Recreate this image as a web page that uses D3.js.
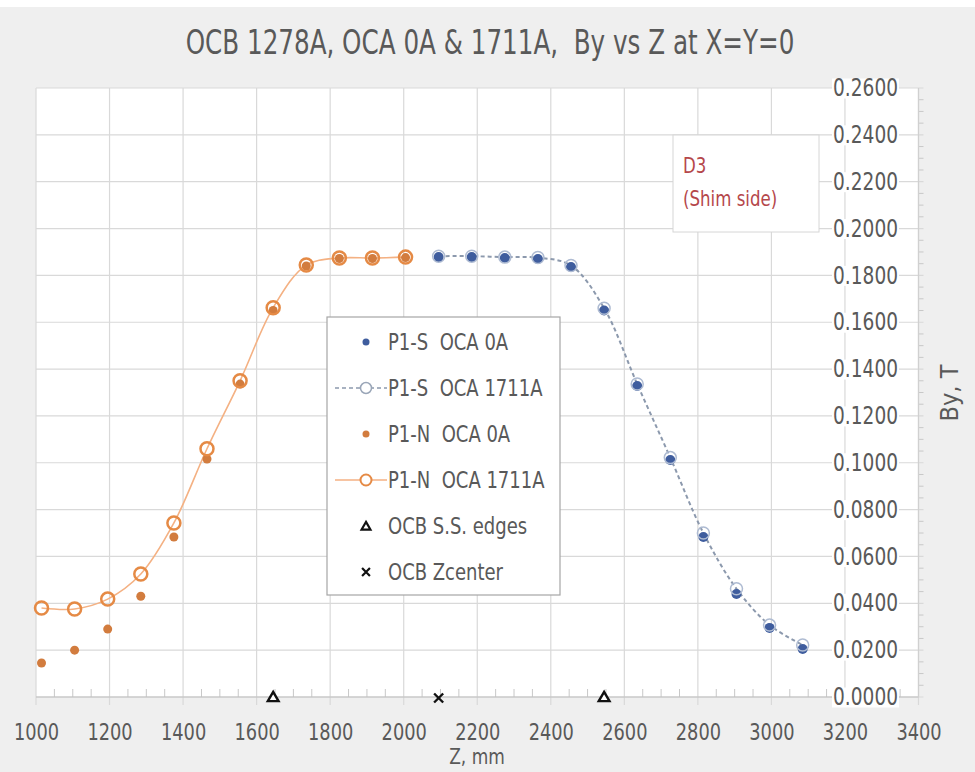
<!DOCTYPE html>
<html>
<head>
<meta charset="utf-8">
<script src="https://cdn.jsdelivr.net/npm/d3@7"></script>
<style>
  body { margin: 0; background: #efefef; }
  svg { display: block; }
</style>
</head>
<body>
<svg id="canvas" width="975" height="772"></svg>
<script>
// P1-N side (orange), Z in mm, By in T
const zNorth = [1015, 1105, 1195, 1285, 1375, 1465, 1555, 1645, 1735, 1825, 1915, 2005];
const north0A = [0.0145, 0.0200, 0.0290, 0.0430, 0.0683, 0.1016, 0.1336, 0.1650, 0.1840, 0.1872, 0.1872, 0.1876];
const north1711A = [0.0380, 0.0376, 0.0418, 0.0525, 0.0743, 0.1060, 0.1350, 0.1662, 0.1844, 0.1874, 0.1874, 0.1878];

// P1-S side (blue)
const zSouth = [2095, 2185, 2275, 2365, 2455, 2545, 2635, 2725, 2815, 2905, 2995, 3085];
const south0A = [0.1878, 0.1878, 0.1874, 0.1870, 0.1836, 0.1650, 0.1328, 0.1012, 0.0683, 0.0440, 0.0295, 0.0205];
const south1711A = [0.1882, 0.1882, 0.1878, 0.1876, 0.1842, 0.1660, 0.1336, 0.1022, 0.0700, 0.0462, 0.0307, 0.0222];

// OCB markers on the axis
const ssEdges = [1645, 2545];
const zCenter = [2095];

const xTicks = [1000, 1200, 1400, 1600, 1800, 2000, 2200, 2400, 2600, 2800, 3000, 3200, 3400];
const yTicks = [0, 0.02, 0.04, 0.06, 0.08, 0.10, 0.12, 0.14, 0.16, 0.18, 0.20, 0.22, 0.24, 0.26];

const legendLabels = ["P1-S  OCA 0A", "P1-S  OCA 1711A", "P1-N  OCA 0A", "P1-N  OCA 1711A", "OCB S.S. edges", "OCB Zcenter"];

const FONT = '"Liberation Sans Narrow", "DejaVu Sans Condensed", "DejaVu Sans", sans-serif';
const TEXT = "#595959";
const GRID = "#d9d9d9";

const svg = d3.select("#canvas").style("font-family", FONT);

const x = d3.scaleLinear().domain([1000, 3400]).range([36, 918.5]);
const y = d3.scaleLinear().domain([0, 0.26]).range([697, 88]);

// squeezed text helper: condensed look like the Calibri of the original
const label = (parent, px, py, str, size, k, anchor) =>
  parent.append("text")
    .attr("transform", `translate(${px}, ${py}) scale(${k}, 1)`)
    .attr("text-anchor", anchor || "start")
    .style("white-space", "pre")
    .style("font-size", size + "px")
    .attr("fill", TEXT)
    .text(str);

// backgrounds
svg.append("rect").attr("width", 975).attr("height", 772).attr("fill", "#efefef");
svg.append("rect").attr("width", 975).attr("height", 7).attr("fill", "#ffffff");
svg.append("rect")
  .attr("x", x(1000)).attr("y", y(0.26))
  .attr("width", x(3400) - x(1000)).attr("height", y(0) - y(0.26))
  .attr("fill", "#ffffff");

// gridlines
svg.append("g").selectAll("line").data(xTicks).enter().append("line")
  .attr("x1", (d) => x(d)).attr("x2", (d) => x(d))
  .attr("y1", y(0.26)).attr("y2", y(0) + 8)
  .attr("stroke", GRID).attr("stroke-width", 1.2);

svg.append("g").selectAll("line").data(yTicks).enter().append("line")
  .attr("x1", x(1000)).attr("x2", x(3400) + 5)
  .attr("y1", (d) => y(d)).attr("y2", (d) => y(d))
  .attr("stroke", GRID).attr("stroke-width", 1.2);

// minor ticks
const xMinor = d3.range(1000, 3401, 50).filter((d) => d % 200 !== 0);
svg.append("g").selectAll("line").data(xMinor).enter().append("line")
  .attr("x1", (d) => x(d)).attr("x2", (d) => x(d))
  .attr("y1", y(0) - 8).attr("y2", y(0))
  .attr("stroke", "#c8c8c8");

const yMinor = d3.range(0, 261, 5).map((d) => d / 1000).filter((d) => Math.round(d * 1000) % 20 !== 0);
svg.append("g").selectAll("line").data(yMinor).enter().append("line")
  .attr("x1", x(3400)).attr("x2", x(3400) + 5)
  .attr("y1", (d) => y(d)).attr("y2", (d) => y(d))
  .attr("stroke", "#c8c8c8");

// axis lines
svg.append("line")
  .attr("x1", x(1000)).attr("x2", x(3400)).attr("y1", y(0)).attr("y2", y(0))
  .attr("stroke", "#bfbfbf").attr("stroke-width", 1.2);
svg.append("line")
  .attr("x1", x(3400)).attr("x2", x(3400)).attr("y1", y(0.26)).attr("y2", y(0))
  .attr("stroke", "#d0d0d0").attr("stroke-width", 1.2);

// x tick labels
const xAxis = svg.append("g")
  .attr("transform", `translate(0, ${y(0)})`)
  .call(d3.axisBottom(x).tickValues(xTicks).tickSize(0).tickPadding(0).tickFormat(d3.format("d")));
xAxis.select(".domain").remove();
xAxis.selectAll("text")
  .attr("y", 43).attr("dy", 0)
  .attr("transform", "scale(0.86, 1)")
  .attr("fill", TEXT).style("font-size", "23px").style("font-family", FONT);

// y tick labels sit inside the plot, on white boxes
const yAxis = svg.append("g")
  .attr("transform", `translate(898, 0)`)
  .call(d3.axisLeft(y).tickValues(yTicks).tickSize(0).tickPadding(0).tickFormat(d3.format(".4f")));
yAxis.select(".domain").remove();
yAxis.selectAll(".tick").insert("rect", "text")
  .attr("x", -66).attr("y", -10).attr("width", 67).attr("height", 20)
  .attr("fill", "#ffffff");
yAxis.selectAll("text")
  .attr("transform", "scale(0.86, 1)")
  .attr("fill", TEXT).style("font-size", "24px").style("font-family", FONT);

// lines
const smooth = d3.line().x((d) => x(d[0])).y((d) => y(d[1])).curve(d3.curveCatmullRom);
svg.append("path")
  .datum(d3.zip(zNorth, north1711A))
  .attr("d", smooth)
  .attr("fill", "none").attr("stroke", "#f4b183").attr("stroke-width", 1.6);

svg.append("path")
  .datum(d3.zip(zSouth, south1711A))
  .attr("d", smooth)
  .attr("fill", "none").attr("stroke", "#8c99ad").attr("stroke-width", 2)
  .attr("stroke-dasharray", "4,3");

// P1-S OCA 0A
svg.append("g").selectAll("circle").data(d3.zip(zSouth, south0A)).enter().append("circle")
  .attr("cx", (d) => x(d[0])).attr("cy", (d) => y(d[1])).attr("r", 5)
  .attr("fill", "#3f5d9e");

// P1-S OCA 1711A
svg.append("g").selectAll("circle").data(d3.zip(zSouth, south1711A)).enter().append("circle")
  .attr("cx", (d) => x(d[0])).attr("cy", (d) => y(d[1])).attr("r", 6)
  .attr("fill", "none").attr("stroke", "#aebbd2").attr("stroke-width", 1.5);

// P1-N OCA 0A
svg.append("g").selectAll("circle").data(d3.zip(zNorth, north0A)).enter().append("circle")
  .attr("cx", (d) => x(d[0])).attr("cy", (d) => y(d[1])).attr("r", 4.5)
  .attr("fill", "#d27c3e");

// P1-N OCA 1711A
svg.append("g").selectAll("circle").data(d3.zip(zNorth, north1711A)).enter().append("circle")
  .attr("cx", (d) => x(d[0])).attr("cy", (d) => y(d[1])).attr("r", 6.5)
  .attr("fill", "none").attr("stroke", "#e58a45").attr("stroke-width", 2.5);

// OCB markers
const tri = d3.symbol().type(d3.symbolTriangle).size(50);
svg.append("g").selectAll("path").data(ssEdges).enter().append("path")
  .attr("d", tri)
  .attr("transform", (d) => `translate(${x(d)}, ${y(0) + 1})`)
  .attr("fill", "#ffffff").attr("stroke", "#111").attr("stroke-width", 2.4);

const cross = d3.symbol().type(d3.symbolX).size(55);
svg.append("g").selectAll("path").data(zCenter).enter().append("path")
  .attr("d", cross)
  .attr("transform", (d) => `translate(${x(d)}, ${y(0) + 1})`)
  .attr("fill", "none").attr("stroke", "#111").attr("stroke-width", 2.4);

// title
label(svg, 490, 54, "OCB 1278A, OCA 0A & 1711A,  By vs Z at X=Y=0", 33, 0.83, "middle");

// axis titles
label(svg, 477, 764, "Z, mm", 21, 0.9, "middle");
svg.append("text")
  .attr("transform", "translate(958, 393) rotate(-90)")
  .attr("text-anchor", "middle")
  .style("font-size", "25px").attr("fill", TEXT)
  .text("By, T");

// D3 note box
const note = svg.append("g");
note.append("rect")
  .attr("x", 673).attr("y", 135).attr("width", 146).attr("height", 97)
  .attr("fill", "#ffffff").attr("stroke", "#d6d6d6");
label(note, 683, 173, "D3", 22, 0.84).attr("fill", "#b5474b");
label(note, 683, 206, "(Shim side)", 22, 0.84).attr("fill", "#b5474b");

// legend
const legend = svg.append("g");
legend.append("rect")
  .attr("x", 327).attr("y", 317).attr("width", 233).attr("height", 278)
  .attr("fill", "#ffffff").attr("stroke", "#a6a6a6").attr("stroke-width", 1.2);

const legendY = d3.scalePoint().domain(legendLabels).range([342, 572]);
const mx = 366;

legendLabels.forEach((d) => label(legend, 388, legendY(d) + 8, d, 23, 0.87));

legend.append("circle").attr("cx", mx).attr("cy", legendY(legendLabels[0])).attr("r", 3.5).attr("fill", "#3f5d9e");

legend.append("line")
  .attr("x1", 335).attr("x2", 387)
  .attr("y1", legendY(legendLabels[1])).attr("y2", legendY(legendLabels[1]))
  .attr("stroke", "#8c99ad").attr("stroke-width", 1.5).attr("stroke-dasharray", "4,3");
legend.append("circle").attr("cx", mx).attr("cy", legendY(legendLabels[1])).attr("r", 5.5)
  .attr("fill", "#ffffff").attr("stroke", "#9aa6b8").attr("stroke-width", 1.5);

legend.append("circle").attr("cx", mx).attr("cy", legendY(legendLabels[2])).attr("r", 3.5).attr("fill", "#d27c3e");

legend.append("line")
  .attr("x1", 335).attr("x2", 387)
  .attr("y1", legendY(legendLabels[3])).attr("y2", legendY(legendLabels[3]))
  .attr("stroke", "#f4b183").attr("stroke-width", 1.5);
legend.append("circle").attr("cx", mx).attr("cy", legendY(legendLabels[3])).attr("r", 5.5)
  .attr("fill", "#ffffff").attr("stroke", "#e58a45").attr("stroke-width", 2);

legend.append("path").attr("d", d3.symbol().type(d3.symbolTriangle).size(34))
  .attr("transform", `translate(${mx}, ${legendY(legendLabels[4]) + 1})`)
  .attr("fill", "#ffffff").attr("stroke", "#111").attr("stroke-width", 2.2);

legend.append("path").attr("d", d3.symbol().type(d3.symbolX).size(42))
  .attr("transform", `translate(${mx}, ${legendY(legendLabels[5])})`)
  .attr("fill", "none").attr("stroke", "#111").attr("stroke-width", 2.2);
</script>
</body>
</html>
